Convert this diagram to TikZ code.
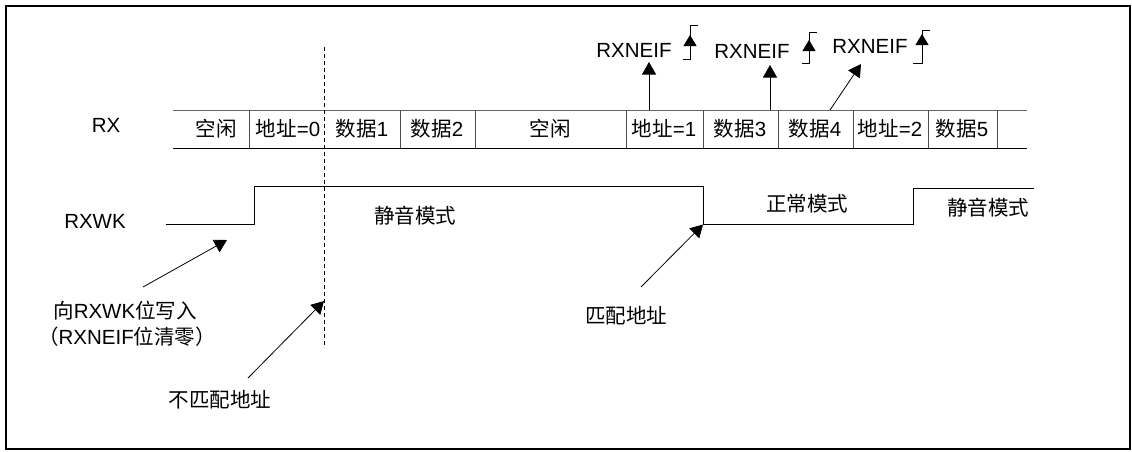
\documentclass[tikz,border=0pt]{standalone}
\usepackage{fontspec}
\setmainfont{Liberation Sans}
\newfontfamily\cjk{Noto Sans CJK SC}
\usetikzlibrary{arrows.meta}
\begin{document}
\begin{tikzpicture}[x=1pt,y=-1pt,
  txt/.style={font=\fontsize{20.5}{24}\selectfont, inner sep=0pt, anchor=base},
  sig/.style={line width=1pt},
  cell/.style={line width=0.9pt},
  tipa/.style={-{Triangle[length=12.5pt,width=14pt]}},
  tipb/.style={-{Triangle[length=11pt,width=13pt]}},
  ann/.style={line width=0.8pt, tipa},
  flag/.style={line width=0.8pt}]
\useasboundingbox (0,0) rectangle (1132,451);
\draw[line width=2pt] (6,5.5) rectangle (1130,448.5);

% RX bar
\node[txt] (rx) at (106,132) {RX};
\draw[cell,black!60] (173,110) -- (1027,110);
\draw[cell] (173,148) -- (1027,148);
\foreach \x in {249,400,475,626,703,778,853,928,997}
  \draw[cell,black!70] (\x,110) -- (\x,148);
\node[txt] (c1) at (216,136) {\cjk 空闲};
\node[txt] (c2) at (288,136) {{\cjk 地址}=0};
\node[txt] (c3) at (362,136) {{\cjk 数据}1};
\node[txt] (c4) at (437,136) {{\cjk 数据}2};
\node[txt] (c5) at (550,136) {\cjk 空闲};
\node[txt] (c6) at (664,136) {{\cjk 地址}=1};
\node[txt] (c7) at (740,136) {{\cjk 数据}3};
\node[txt] (c8) at (815,136) {{\cjk 数据}4};
\node[txt] (c9) at (890,136) {{\cjk 地址}=2};
\node[txt] (c10) at (962,136) {{\cjk 数据}5};

% dashed marker
\coordinate (dtop) at (324,47);
\coordinate (dbot) at (324,348);
\draw[line width=0.8pt, dash pattern=on 4pt off 3pt] (dtop) -- (dbot);

% RXWK signal
\node[txt] (rxwk) at (95,228) {RXWK};
\coordinate (s0) at (166,224);
\coordinate (s1) at (254,224);
\coordinate (s2) at (254,186);
\coordinate (s3) at (703,186);
\coordinate (s4) at (703,224);
\coordinate (s5) at (913,224);
\coordinate (s6) at (913,188);
\coordinate (s7) at (1034,188);
\draw[sig] (s0) -- (s1) -- (s2) -- (s3) -- (s4) -- (s5) -- (s6) -- (s7);
\node[txt] (mute1) at (415,223.5) {\cjk 静音模式};
\node[txt] (norm) at (807,211.5) {\cjk 正常模式};
\node[txt] (mute2) at (988,215.5) {\cjk 静音模式};

% annotations
\node[txt] (w1) at (125,318) {{\cjk 向}RXWK{\cjk 位写入}};
\node[txt] (w2) at (127,344) {{\cjk （}RXNEIF{\cjk 位清零）}};
\coordinate (w1a) at (143,287);
\coordinate (w1b) at (227,240);
\draw[ann] (w1a) -- (w1b);

\node[txt] (nm) at (220,407.5) {\cjk 不匹配地址};
\coordinate (nma) at (248,378);
\coordinate (nmb) at (324,301);
\draw[ann] (nma) -- (nmb);

\node[txt] (ma) at (626,323.5) {\cjk 匹配地址};
\coordinate (maa) at (641,287);
\coordinate (mab) at (703,224.5);
\draw[ann] (maa) -- (mab);

% RXNEIF flags
\node[txt] (f1) at (634,57) {RXNEIF};
\node[txt] (f2) at (752,58) {RXNEIF};
\node[txt] (f3) at (870,53) {RXNEIF};
\coordinate (f1a) at (649,110);
\coordinate (f1b) at (649,62);
\draw[ann] (f1a) -- (f1b);
\coordinate (f2a) at (770,110);
\coordinate (f2b) at (770,65);
\draw[ann] (f2a) -- (f2b);
\coordinate (f3a) at (830,110);
\coordinate (f3b) at (861,64);
\draw[ann] (f3a) -- (f3b);

% rising-edge symbols
\coordinate (e1a) at (683,59); \coordinate (e1b) at (690,59);
\coordinate (e1c) at (690,25); \coordinate (e1d) at (698,25);
\coordinate (e1m) at (690,48); \coordinate (e1t) at (690,35);
\draw[flag] (e1a) -- (e1b) -- (e1c) -- (e1d);
\draw[flag,tipb] (e1m) -- (e1t);

\coordinate (e2a) at (802,63); \coordinate (e2b) at (809,63);
\coordinate (e2c) at (809,32); \coordinate (e2d) at (817,32);
\coordinate (e2m) at (809,52); \coordinate (e2t) at (809,40);
\draw[flag] (e2a) -- (e2b) -- (e2c) -- (e2d);
\draw[flag,tipb] (e2m) -- (e2t);

\coordinate (e3a) at (913,63); \coordinate (e3b) at (922,63);
\coordinate (e3c) at (922,30); \coordinate (e3d) at (930,30);
\coordinate (e3m) at (922,46); \coordinate (e3t) at (922,34);
\draw[flag] (e3a) -- (e3b) -- (e3c) -- (e3d);
\draw[flag,tipb] (e3m) -- (e3t);
\end{tikzpicture}
\end{document}
